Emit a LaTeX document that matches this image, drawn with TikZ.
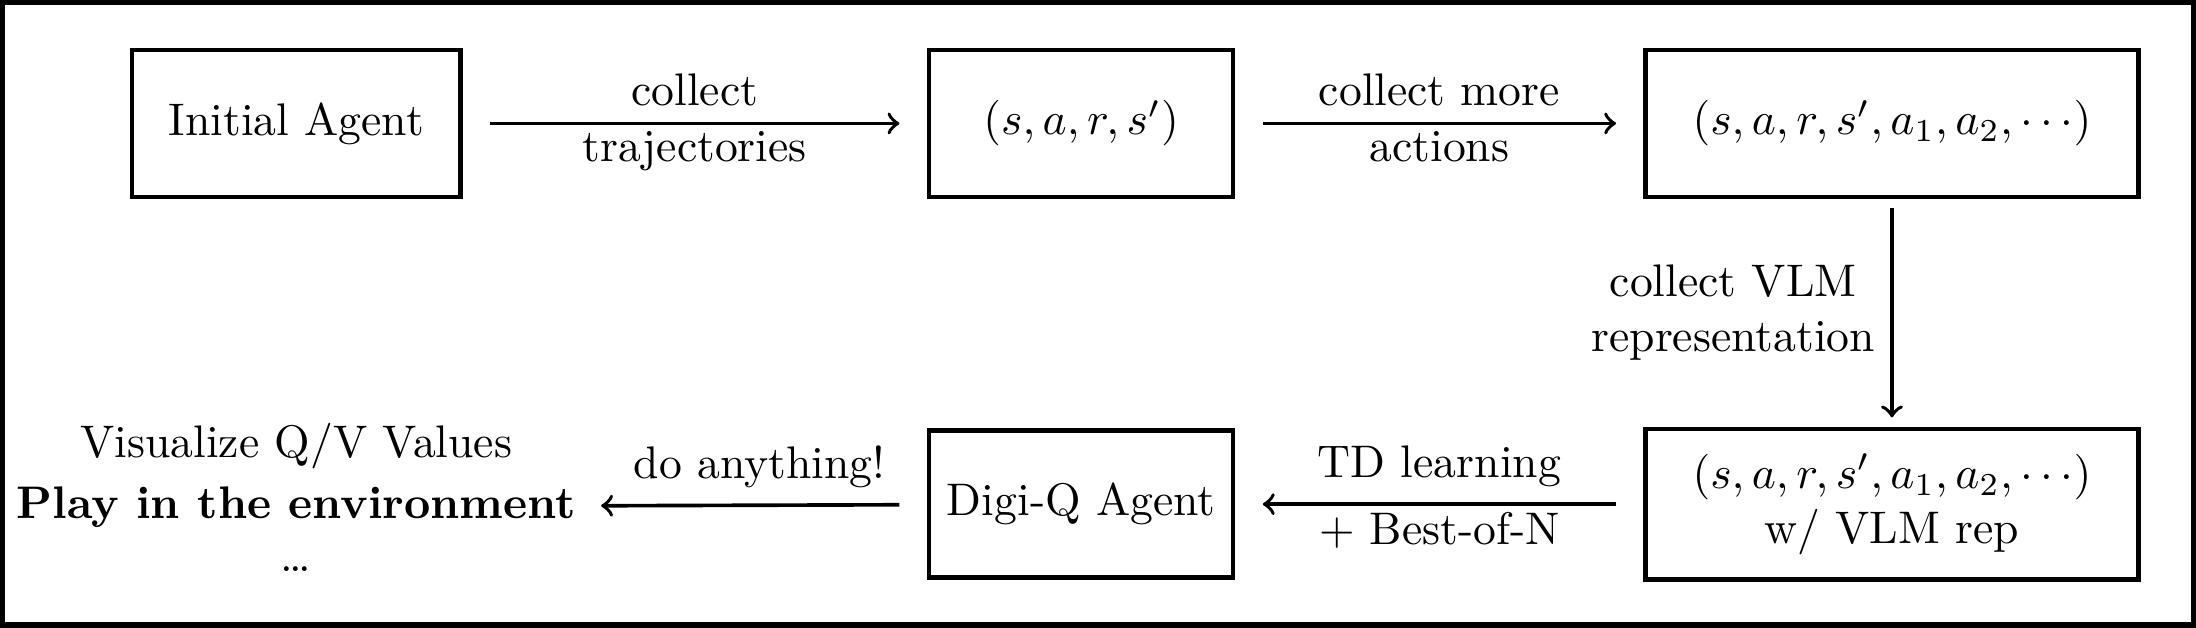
\documentclass[tikz,border=0pt]{standalone}
\usepackage{tikz}
\usetikzlibrary{positioning}
\usetikzlibrary{arrows}
\tikzset{stage/.style={shape=rectangle, draw=black, line width=1pt, minimum height=1.13cm}}
\tikzset{flow/.style={->, thick, shorten <=6pt, shorten >=6pt}}
\usepackage{amssymb}
\begin{document}
\begin{tikzpicture}
		\useasboundingbox (0,0) rectangle (16.9,-4.83);
		\draw[very thick] (0.02,-0.02) rectangle (16.88,-4.81);
		\node[stage, minimum width=2.53cm] (A) at (2.28,-0.95) {Initial Agent};
		\node[stage, minimum width=2.34cm] (B) at (8.32,-0.95) {$(s,a,r,s')$};
		\node[stage, minimum width=3.79cm] (C) at (14.56,-0.95) {$(s,a,r,s',a_1,a_2,\cdots)$};
		\node[stage, minimum width=3.79cm, minimum height=1.16cm, align=center] (D) at (14.56,-3.88) {$(s,a,r,s',a_1,a_2,\cdots)$\\w/ VLM rep};
		\node[stage, minimum width=2.34cm] (E) at (8.32,-3.88) {Digi-Q Agent};
		\node (F) at (2.28,-3.9) {\bfseries Play in the environment};
		\node[anchor=base] (V) at (2.28,-3.52) {Visualize Q/V Values};
		\node[anchor=base] (G) at (2.28,-4.4) {\dots};
		\path [flow] (A) edge node[above]{collect} node[below=-2pt]{trajectories} (B);
		\path [flow] (B) edge node[above]{collect more} node[below=-2pt]{actions} (C);
		\path [flow, shorten <=2pt, shorten >=2pt] (C) edge node[left, align=center]{collect VLM\\representation} (D);
		\path [flow] (D) edge node[above]{TD learning} node[below=-2pt]{+ Best-of-N} (E);
		\path [flow, shorten >=2pt] (E) edge node[above]{do anything!} (F);
	\end{tikzpicture}
\end{document}
